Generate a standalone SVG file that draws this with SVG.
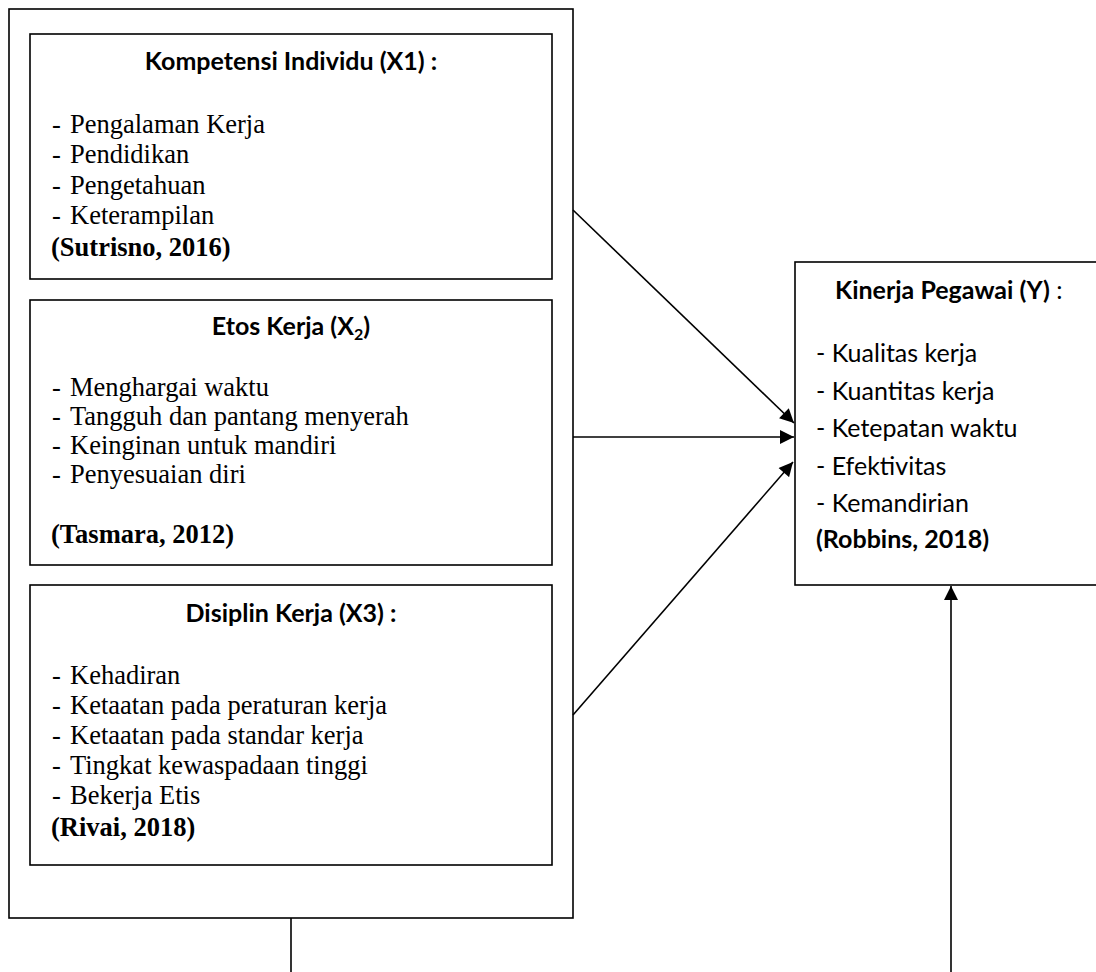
<svg xmlns="http://www.w3.org/2000/svg" width="1096" height="972" viewBox="0 0 1096 972">
<style>
.box{fill:#fff;stroke:#000;stroke-width:1.6}
.ttl{font-family:Lato,"Liberation Sans",sans-serif;font-weight:bold;font-size:25px;fill:#000}
.cal{font-family:Lato,"Liberation Sans",sans-serif;font-size:25px;fill:#000}
.tnr{font-family:"Liberation Serif",serif;font-size:26.5px;fill:#000}
.tnrb{font-family:"Liberation Serif",serif;font-size:26.5px;font-weight:bold;fill:#000}
.con{stroke:#000;stroke-width:1.6;fill:none}
</style>
<defs>
<marker id="ah" viewBox="0 0 10 10" refX="10" refY="5" markerUnits="userSpaceOnUse" markerWidth="15" markerHeight="14" orient="auto">
<path d="M0,0 L10,5 L0,10 z" fill="#000"/>
</marker>
</defs>
<rect x="0" y="0" width="1096" height="972" fill="#fff"/>
<g id="outer">
<rect class="box" x="9" y="9" width="564" height="909"/>
</g>
<g id="x1">
<rect class="box" x="30" y="34" width="522" height="245"/>
<text class="ttl" x="291" y="70" text-anchor="middle">Kompetensi Individu (X1) :</text>
<text class="tnr" x="52" y="133">-</text><text class="tnr" x="70" y="133">Pengalaman Kerja</text>
<text class="tnr" x="52" y="163">-</text><text class="tnr" x="70" y="163">Pendidikan</text>
<text class="tnr" x="52" y="194">-</text><text class="tnr" x="70" y="194">Pengetahuan</text>
<text class="tnr" x="52" y="224">-</text><text class="tnr" x="70" y="224">Keterampilan</text>
<text class="tnrb" x="51" y="256">(Sutrisno, 2016)</text>
</g>
<g id="x2">
<rect class="box" x="30" y="300" width="522" height="265"/>
<text class="ttl" x="291" y="335" text-anchor="middle">Etos Kerja (X<tspan font-size="16" dy="5">2</tspan><tspan dy="-5">)</tspan></text>
<text class="tnr" x="52" y="396">-</text><text class="tnr" x="70" y="396">Menghargai waktu</text>
<text class="tnr" x="52" y="425">-</text><text class="tnr" x="70" y="425">Tangguh dan pantang menyerah</text>
<text class="tnr" x="52" y="454">-</text><text class="tnr" x="70" y="454">Keinginan untuk mandiri</text>
<text class="tnr" x="52" y="483">-</text><text class="tnr" x="70" y="483">Penyesuaian diri</text>
<text class="tnrb" x="51" y="543">(Tasmara, 2012)</text>
</g>
<g id="x3">
<rect class="box" x="30" y="585" width="522" height="280"/>
<text class="ttl" x="291" y="622" text-anchor="middle">Disiplin Kerja (X3) :</text>
<text class="tnr" x="52" y="684">-</text><text class="tnr" x="70" y="684">Kehadiran</text>
<text class="tnr" x="52" y="714">-</text><text class="tnr" x="70" y="714">Ketaatan pada peraturan kerja</text>
<text class="tnr" x="52" y="744">-</text><text class="tnr" x="70" y="744">Ketaatan pada standar kerja</text>
<text class="tnr" x="52" y="774">-</text><text class="tnr" x="70" y="774">Tingkat kewaspadaan tinggi</text>
<text class="tnr" x="52" y="804">-</text><text class="tnr" x="70" y="804">Bekerja Etis</text>
<text class="tnrb" x="51" y="836">(Rivai, 2018)</text>
</g>
<g id="y">
<rect class="box" x="795" y="262" width="310" height="323"/>
<text class="ttl" x="835" y="299">Kinerja Pegawai (Y)<tspan font-weight="normal"> :</tspan></text>
<text class="cal" x="816" y="362">- Kualitas kerja</text>
<text class="cal" x="816" y="400">- Kuantitas kerja</text>
<text class="cal" x="816" y="437">- Ketepatan waktu</text>
<text class="cal" x="816" y="475">- Efektivitas</text>
<text class="cal" x="816" y="512">- Kemandirian</text>
<text class="ttl" x="816" y="548">(Robbins, 2018)</text>
</g>
<g id="connectors">
<line class="con" x1="573" y1="210" x2="794" y2="423" marker-end="url(#ah)"/>
<line class="con" x1="573" y1="437" x2="794" y2="437" marker-end="url(#ah)"/>
<line class="con" x1="573" y1="715" x2="793" y2="462" marker-end="url(#ah)"/>
<line class="con" x1="951" y1="972" x2="951" y2="586" marker-end="url(#ah)"/>
<line class="con" x1="291" y1="918" x2="291" y2="972"/>
</g>
</svg>
